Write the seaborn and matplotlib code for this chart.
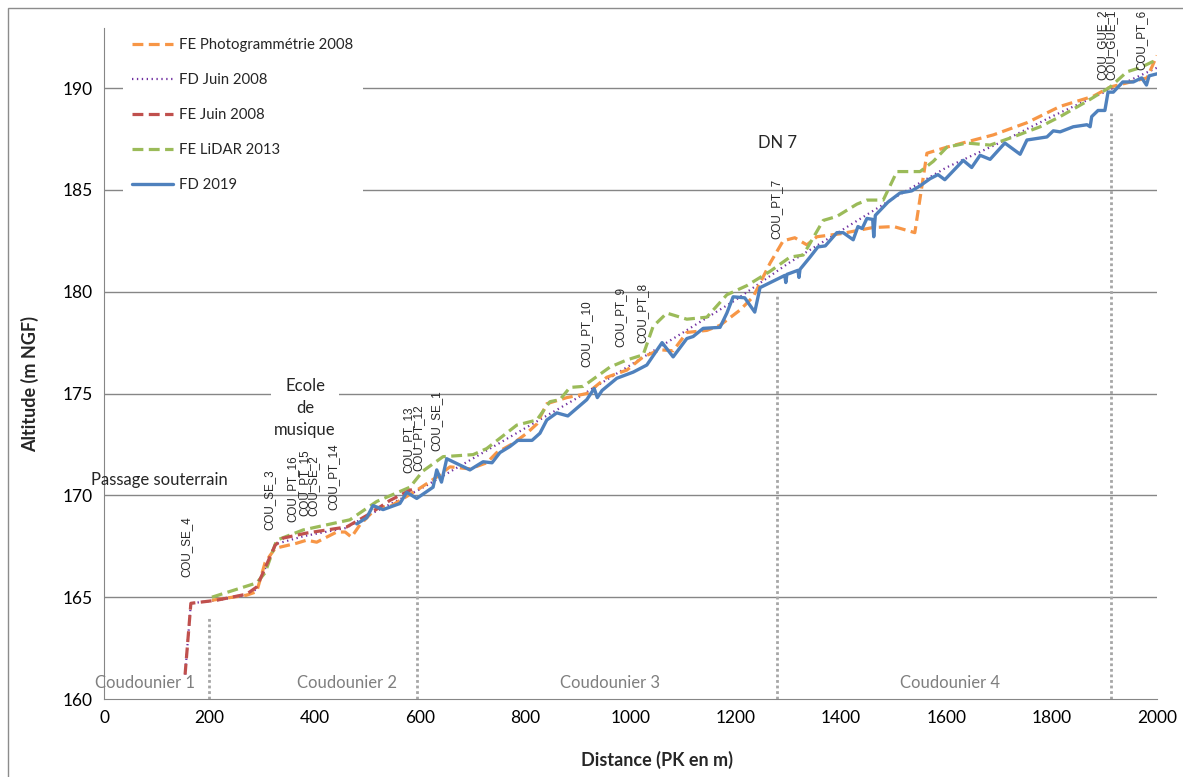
import numpy as np
import pandas as pd
import seaborn as sns
import matplotlib
matplotlib.use("Agg")
from matplotlib import pyplot as plt
from matplotlib.patches import Rectangle

sns.set_style("white")
plt.rcParams["font.family"] = ["Lato", "DejaVu Sans"]

# --- series (PK in m, altitude in m NGF) ---
x_photo = [205, 271, 290, 306, 325, 366, 385, 404, 442, 458, 470, 486, 518, 543, 575, 594,
           632, 657, 695, 727, 746, 777, 803, 822, 841, 879, 917, 955, 993, 1024, 1056, 1081,
           1107, 1145, 1170, 1208, 1233, 1265, 1290, 1312, 1335, 1354, 1400, 1460, 1500, 1540,
           1563, 1601, 1689, 1753, 1816, 1879, 1911, 1981, 2000]
y_photo = [164.85, 165.1, 165.27, 166.7, 167.4, 167.65, 167.8, 167.7, 168.2, 168.2, 167.95, 168.55,
           169.4, 169.45, 169.95, 170.25, 170.9, 171.4, 171.3, 171.6, 172.1, 172.55, 173.05, 173.5,
           174.5, 174.8, 175.0, 175.8, 176.15, 176.8, 177.15, 177.1, 178.0, 178.1, 178.35, 179.1,
           179.75, 181.4, 182.5, 182.65, 182.3, 182.7, 182.85, 183.15, 183.2, 182.9, 186.8, 187.1,
           187.7, 188.3, 189.1, 189.6, 190.05, 190.5, 191.6]

x_fd08 = [154, 165, 215, 270, 290, 325, 380, 460, 500, 600, 700, 800, 900, 1000, 1100, 1200,
          1300, 1400, 1500, 1600, 1700, 1800, 1900, 2000]
y_fd08 = [161.2, 164.7, 164.85, 165.1, 165.4, 167.6, 168.0, 168.4, 169.0, 170.3, 171.8, 173.3,
          174.8, 176.4, 178.0, 179.6, 181.4, 183.0, 184.6, 186.1, 187.3, 188.6, 189.8, 191.0]

x_fe08 = [154, 165, 214, 271, 290, 325, 340, 385, 423, 461, 505, 543, 581, 592]
y_fe08 = [161.2, 164.7, 164.85, 165.15, 165.5, 167.55, 167.9, 168.15, 168.3, 168.45, 169.1,
          169.75, 170.25, 170.35]

x_lidar = [205, 290, 306, 328, 378, 467, 518, 581, 606, 644, 701, 727, 784, 822, 847, 866, 885,
           910, 961, 993, 1024, 1043, 1069, 1107, 1145, 1183, 1221, 1265, 1303, 1328, 1366, 1392,
           1430, 1449, 1480, 1506, 1550, 1575, 1601, 1639, 1683, 1727, 1778, 1816, 1867, 1911,
           1943, 1968, 2000]
y_lidar = [165.0, 165.7, 166.2, 167.8, 168.3, 168.8, 169.7, 170.4, 171.2, 171.9, 172.0, 172.3,
           173.45, 173.7, 174.6, 174.7, 175.3, 175.35, 176.3, 176.65, 176.9, 178.3, 178.95, 178.65,
           178.75, 179.85, 180.3, 181.0, 181.7, 181.8, 183.5, 183.7, 184.3, 184.5, 184.5, 185.9,
           185.9, 186.4, 187.1, 187.3, 187.2, 187.6, 188.1, 188.6, 189.35, 190.05, 190.8, 191.0,
           191.4]

x_fd19 = [480, 499, 511, 530, 562, 575, 594, 625, 632, 641, 651, 695, 720, 737, 752, 771, 786,
          813, 828, 841, 860, 881, 917, 931, 937, 946, 974, 1005, 1031, 1060, 1081, 1107, 1119,
          1138, 1170, 1183, 1195, 1217, 1236, 1246, 1293, 1295, 1297, 1318, 1320, 1322, 1341,
          1356, 1370, 1392, 1404, 1423, 1432, 1440, 1449, 1460, 1462, 1465, 1489, 1512, 1534,
          1550, 1569, 1584, 1597, 1632, 1648, 1664, 1683, 1711, 1740, 1753, 1791, 1803, 1816,
          1841, 1867, 1873, 1876, 1888, 1901, 1907, 1917, 1935, 1955, 1971, 1980, 1985, 2000]
y_fd19 = [168.6, 168.9, 169.5, 169.3, 169.6, 170.15, 169.85, 170.4, 171.25, 170.65, 171.8,
          171.25, 171.65, 171.6, 172.1, 172.4, 172.7, 172.7, 173.05, 173.7, 174.05, 173.9, 174.7,
          175.25, 174.8, 175.15, 175.75, 176.05, 176.4, 177.5, 176.8, 177.7, 177.8, 178.2,
          178.25, 178.95, 179.75, 179.7, 179.0, 180.2, 180.8, 180.45, 180.85, 181.05, 180.7,
          181.1, 181.7, 182.2, 182.25, 182.9, 182.9, 182.55, 183.2, 183.1, 183.6, 183.55, 182.7,
          183.75, 184.4, 184.85, 184.95, 185.2, 185.55, 185.75, 185.5, 186.45, 186.1, 186.7,
          186.5, 187.3, 186.75, 187.45, 187.6, 187.9, 187.85, 188.1, 188.2, 188.1, 188.6, 188.9,
          188.9, 189.8, 189.8, 190.3, 190.3, 190.5, 190.15, 190.6, 190.7]

# station labels (name, PK, altitude of the label's base)
pt_names = ["COU_SE_4", "COU_SE_3", "COU_PT_16", "COU_PT_15", "COU_SE_2", "COU_PT_14",
            "COU_PT_13", "COU_PT_12", "COU_SE_1", "COU_PT_10", "COU_PT_9", "COU_PT_8",
            "COU_PT_7", "COU_GUE_2", "COU_GUE_1", "COU_PT_6"]
pt_x = [156, 315, 357, 380, 397, 435, 578, 597, 632, 917, 980, 1022, 1278, 1896, 1913, 1971]
pt_y = [166.0, 168.3, 168.7, 169.0, 169.0, 169.3, 171.1, 171.2, 172.2, 176.3, 177.3, 177.5,
        182.6, 190.4, 190.4, 190.9]

# limits between the Coudounier reaches (PK, top of dotted line)
limit_x = [200, 595, 1278, 1912]
limit_top = [164.0, 169.0, 179.8, 188.8]
reach_names = ["Coudounier 1", "Coudounier 2", "Coudounier 3", "Coudounier 4"]
reach_x = [78, 462, 961, 1607]

series = [
    ("FE Photogrammétrie 2008", x_photo, y_photo, "#F79646", (3.4, 1.7), 2.3, 3),
    ("FD Juin 2008", x_fd08, y_fd08, "#7030A0", (0.6, 1.6), 1.6, 2),
    ("FE Juin 2008", x_fe08, y_fe08, "#C0504D", (3.4, 1.7), 2.3, 5),
    ("FE LiDAR 2013", x_lidar, y_lidar, "#9BBB59", (3.4, 1.7), 2.3, 4),
    ("FD 2019", x_fd19, y_fd19, "#4F81BD", None, 2.4, 6),
]

fig = plt.figure(figsize=(11.83, 7.77), dpi=100)
ax = fig.add_axes([104 / 1183, 1 - 699 / 777, 1053 / 1183, 671 / 777])

handles = []
for name, xs, ys, col, dash, lw, z in series:
    df = pd.DataFrame({"PK": xs, "Alt": ys})
    sns.lineplot(data=df, x="PK", y="Alt", ax=ax, color=col, lw=lw, sort=False,
                 estimator=None, zorder=z)
    line = ax.lines[-1]
    if dash is not None:
        line.set_dashes(dash)
    handles.append(line)

grey = "#868686"
ax.set_xlim(0, 2000)
ax.set_ylim(160, 192.95)
ax.set_xticks(np.arange(0, 2001, 200))
ax.set_yticks(np.arange(160, 191, 5))
for yv in range(165, 191, 5):
    ax.axhline(yv, color=grey, lw=1, zorder=0)
for xv, top in zip(limit_x, limit_top):
    ax.plot([xv, xv], [160, top], color="#A6A6A6", lw=2, ls=(0, (1, 1)), zorder=1)

sns.despine(ax=ax)
for s in ["left", "bottom"]:
    ax.spines[s].set_color(grey)
ax.tick_params(axis="both", colors=grey, labelcolor="black", labelsize=12.5,
               length=4.5, direction="out")

ax.set_xlabel("Distance (PK en m)", fontsize=13, fontweight="bold")
ax.set_ylabel("Altitude (m NGF)", fontsize=13, fontweight="bold")
ax.xaxis.set_label_coords(0.525, -0.078)
ax.yaxis.set_label_coords(-0.062, 0.47)

for name, xv, yv in zip(pt_names, pt_x, pt_y):
    ax.text(xv, yv, name, rotation=90, ha="center", va="bottom", fontsize=8.4,
            family="Liberation Sans", zorder=7)

for name, xv in zip(reach_names, reach_x):
    ax.text(xv, 160.8, name, ha="center", va="center", fontsize=12, color="#7F7F7F")

ax.text(106, 170.75, "Passage souterrain", ha="center", va="center", fontsize=12)
ax.text(382, 174.3, "Ecole\nde\nmusique", ha="center", va="center", fontsize=12,
        linespacing=1.45, bbox=dict(fc="white", ec="none", pad=2), zorder=8)
ax.text(1280, 187.3, "DN 7", ha="center", va="center", fontsize=12)

labels = [s[0] for s in series]
leg = ax.legend(handles, labels, loc="upper left", bbox_to_anchor=(123 / 1183, 1 - 29 / 777),
                bbox_transform=fig.transFigure, frameon=True, fontsize=10.7,
                handlelength=2.75, handletextpad=0.45, labelspacing=1.42,
                borderpad=0.6, borderaxespad=0, fancybox=False)
leg.get_frame().set_facecolor("white")
leg.get_frame().set_edgecolor("none")
leg.get_frame().set_alpha(1)
leg.set_zorder(10)

fig.patches.append(Rectangle((8 / 1183, -0.1), 1.2, 1 - 8 / 777 + 0.1, transform=fig.transFigure,
                             fill=False, ec="#8C8C8C", lw=1))

fig.savefig("out.png", dpi=100)
